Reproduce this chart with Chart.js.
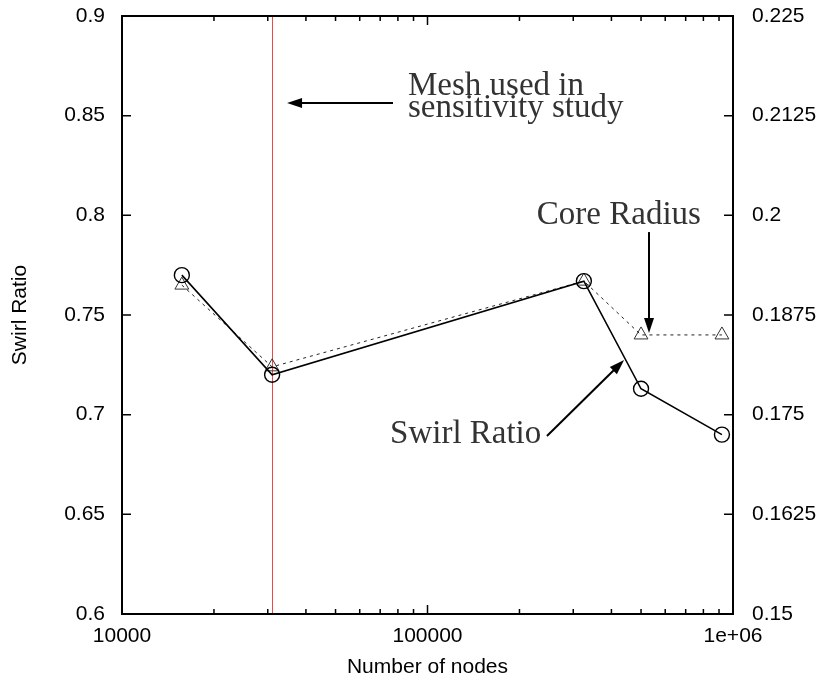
<!DOCTYPE html>
<html>
<head>
<meta charset="utf-8">
<script src="https://cdn.jsdelivr.net/npm/chart.js@4"></script>
<style>
  html, body { margin: 0; padding: 0; background: #fff; }
  #wrap { width: 821px; height: 681px; }
</style>
</head>
<body>
<div id="wrap"><canvas id="myChart" width="821" height="681"></canvas></div>
<script>
// data
const nodes = [15700, 31000, 325000, 500000, 920000];
const swirlRatio = [0.770, 0.720, 0.767, 0.713, 0.690];
const coreRadius = [0.19125, 0.181, 0.19175, 0.185, 0.185];
const meshUsed = 31000;

const xTicks = [10000, 100000, 1000000];
const xTickLabels = ['10000', '100000', '1e+06'];
const yTicks = [0.6, 0.65, 0.7, 0.75, 0.8, 0.85, 0.9];
const yTickLabels = ['0.6', '0.65', '0.7', '0.75', '0.8', '0.85', '0.9'];
const y2Ticks = [0.15, 0.1625, 0.175, 0.1875, 0.2, 0.2125, 0.225];
const y2TickLabels = ['0.15', '0.1625', '0.175', '0.1875', '0.2', '0.2125', '0.225'];

const tickFont = { family: 'Liberation Sans', size: 21 };
const noteFont = '33px "Liberation Serif"';

// annotations, in data units (x nodes, y swirl ratio)
const notes = [
  { lines: ['Mesh used in', 'sensitivity study'], x: 86300, y: 0.8604, lineGap: 0.011 },
  { lines: ['Core Radius'], x: 228000, y: 0.7955 },
  { lines: ['Swirl Ratio'], x: 75400, y: 0.6858 }
];
const arrows = [
  { from: [77100, 0.8564], to: [34700, 0.8564] },
  { from: [531000, 0.7916], to: [531000, 0.741] },
  { from: [246000, 0.6893], to: [440000, 0.7274] }
];

function drawArrow(ctx, x1, y1, x2, y2) {
  const ang = Math.atan2(y2 - y1, x2 - x1);
  const len = 15, half = 5;
  ctx.beginPath();
  ctx.moveTo(x1, y1);
  ctx.lineTo(x2 - Math.cos(ang) * len * 0.8, y2 - Math.sin(ang) * len * 0.8);
  ctx.stroke();
  ctx.beginPath();
  ctx.moveTo(x2, y2);
  ctx.lineTo(x2 - Math.cos(ang) * len + Math.sin(ang) * half, y2 - Math.sin(ang) * len - Math.cos(ang) * half);
  ctx.lineTo(x2 - Math.cos(ang) * len - Math.sin(ang) * half, y2 - Math.sin(ang) * len + Math.cos(ang) * half);
  ctx.closePath();
  ctx.fill();
}

const gnuplotLook = {
  id: 'gnuplotLook',
  beforeDatasetsDraw(chart) {
    const { ctx, chartArea: a, scales } = chart;
    const px = Math.round(scales.x.getPixelForValue(meshUsed)) + 0.5;
    ctx.save();
    ctx.strokeStyle = 'rgb(240,70,70)';
    ctx.lineWidth = 1;
    ctx.beginPath();
    ctx.moveTo(px, a.top);
    ctx.lineTo(px, a.bottom);
    ctx.stroke();
    ctx.restore();
  },
  afterDraw(chart) {
    const { ctx, chartArea: a, scales } = chart;
    const sx = scales.x, sy = scales.y, sy2 = scales.y1;
    ctx.save();
    ctx.strokeStyle = '#000';
    ctx.lineWidth = 1.5;
    ctx.beginPath();
    // x ticks, bottom and top (mirror)
    for (let d = 10000; d <= 1000000; d *= 10) {
      for (let k = 1; k <= 9; k++) {
        const v = d * k;
        if (v > 1000000) break;
        const p = sx.getPixelForValue(v);
        const l = k === 1 ? 9 : 5;
        ctx.moveTo(p, a.bottom); ctx.lineTo(p, a.bottom - l);
        ctx.moveTo(p, a.top); ctx.lineTo(p, a.top + l);
      }
    }
    yTicks.forEach(v => {
      const p = sy.getPixelForValue(v);
      ctx.moveTo(a.left, p); ctx.lineTo(a.left + 9, p);
    });
    y2Ticks.forEach(v => {
      const p = sy2.getPixelForValue(v);
      ctx.moveTo(a.right, p); ctx.lineTo(a.right - 9, p);
    });
    ctx.stroke();
    ctx.lineWidth = 2;
    ctx.strokeRect(a.left, a.top, a.right - a.left, a.bottom - a.top);

    // notes
    ctx.fillStyle = '#333';
    ctx.font = noteFont;
    ctx.textBaseline = 'alphabetic';
    ctx.textAlign = 'left';
    notes.forEach(n => {
      n.lines.forEach((t, i) => {
        ctx.fillText(t, sx.getPixelForValue(n.x), sy.getPixelForValue(n.y - i * (n.lineGap || 0)));
      });
    });
    ctx.strokeStyle = '#000';
    ctx.fillStyle = '#000';
    ctx.lineWidth = 2;
    arrows.forEach(ar => {
      drawArrow(ctx,
        sx.getPixelForValue(ar.from[0]), sy.getPixelForValue(ar.from[1]),
        sx.getPixelForValue(ar.to[0]), sy.getPixelForValue(ar.to[1]));
    });
    ctx.restore();
  }
};

// invisible grid, only used to space tick labels from the axes
const hiddenGrid = len => ({ display: true, drawOnChartArea: false, drawTicks: true, tickLength: len, color: 'rgba(0,0,0,0)' });

const ctx = document.getElementById('myChart').getContext('2d');
new Chart(ctx, {
  type: 'line',
  data: {
    datasets: [{
      label: 'Swirl Ratio',
      data: nodes.map((n, i) => ({ x: n, y: swirlRatio[i] })),
      yAxisID: 'y',
      borderColor: '#000',
      borderWidth: 1.6,
      pointStyle: 'circle',
      pointRadius: 7.5,
      pointBorderWidth: 1.4,
      pointBorderColor: '#000',
      pointBackgroundColor: 'rgba(0,0,0,0)',
      tension: 0
    }, {
      label: 'Core Radius',
      data: nodes.map((n, i) => ({ x: n, y: coreRadius[i] })),
      yAxisID: 'y1',
      borderColor: '#222',
      borderWidth: 1,
      borderDash: [3, 4],
      pointStyle: 'triangle',
      pointRadius: 8,
      pointBorderWidth: 1,
      pointBorderColor: '#333',
      pointBackgroundColor: 'rgba(0,0,0,0)',
      tension: 0
    }]
  },
  options: {
    responsive: false,
    animation: false,
    layout: { padding: { top: 16, left: 0, right: 0, bottom: 0 } },
    plugins: { legend: { display: false }, tooltip: { enabled: false } },
    scales: {
      x: {
        type: 'logarithmic',
        min: 10000,
        max: 1000000,
        grid: hiddenGrid(10),
        border: { display: false },
        afterBuildTicks: axis => { axis.ticks = xTicks.map(v => ({ value: v })); },
        afterFit: scale => { scale.height = 67; },
        ticks: {
          font: tickFont, color: '#000', padding: 0, maxRotation: 0, autoSkip: false,
          callback: (v) => xTickLabels[xTicks.indexOf(v)]
        },
        title: { display: true, text: 'Number of nodes', font: tickFont, color: '#000', padding: { top: 0, bottom: 1 } }
      },
      y: {
        position: 'left',
        min: 0.6,
        max: 0.9,
        grid: hiddenGrid(17),
        border: { display: false },
        afterBuildTicks: axis => { axis.ticks = yTicks.map(v => ({ value: v })); },
        afterFit: scale => { scale.width = 122; },
        ticks: {
          font: tickFont, color: '#000', padding: 0,
          callback: (v) => yTickLabels[yTicks.indexOf(v)]
        },
        title: { display: true, text: 'Swirl Ratio', font: tickFont, color: '#000', padding: { top: 8, bottom: 0 } }
      },
      y1: {
        position: 'right',
        min: 0.15,
        max: 0.225,
        grid: hiddenGrid(19),
        border: { display: false },
        afterBuildTicks: axis => { axis.ticks = y2Ticks.map(v => ({ value: v })); },
        afterFit: scale => { scale.width = 88; },
        ticks: {
          font: tickFont, color: '#000', padding: 0,
          callback: (v) => y2TickLabels[y2Ticks.indexOf(v)]
        }
      }
    }
  },
  plugins: [gnuplotLook]
});
</script>
</body>
</html>
